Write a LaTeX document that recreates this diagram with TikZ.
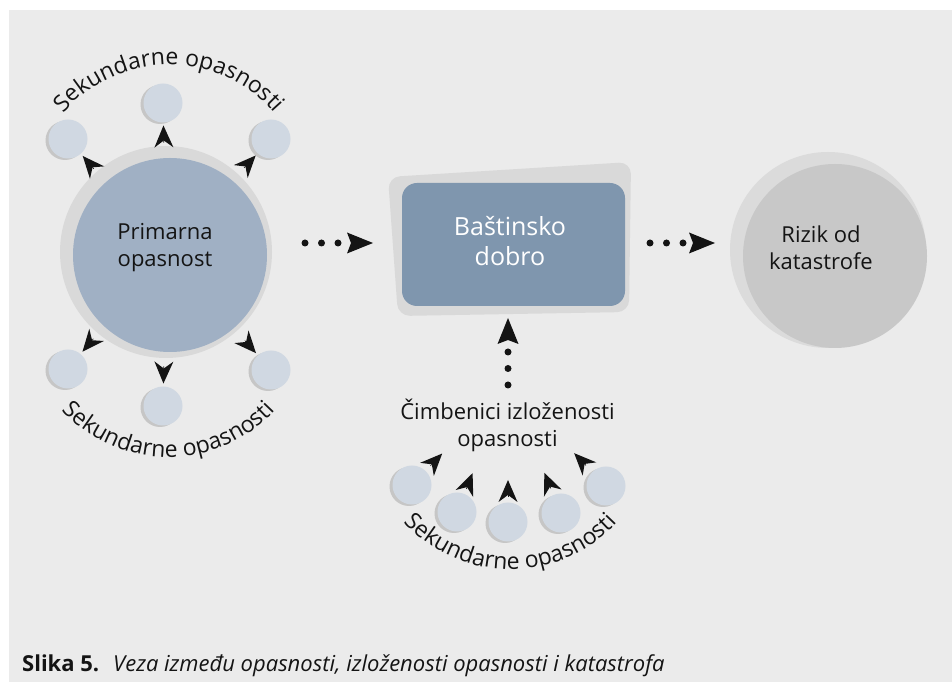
\documentclass[tikz,border=0pt]{standalone}
\usepackage{fontspec}
\setmainfont{Open Sans}
\usetikzlibrary{arrows.meta,decorations.text}

\definecolor{panel}{RGB}{235,235,235}
\definecolor{ring}{RGB}{217,217,217}
\definecolor{primblue}{RGB}{160,176,196}
\definecolor{secblue}{RGB}{208,216,226}
\definecolor{secshadow}{RGB}{198,198,198}
\definecolor{boxblue}{RGB}{127,150,174}
\definecolor{riskout}{RGB}{219,219,219}
\definecolor{riskin}{RGB}{200,200,200}
\definecolor{ink}{RGB}{20,20,20}

\newcommand{\lbl}{\fontsize{22}{27}\selectfont}
\newcommand{\arclbl}{\fontsize{23}{27}\selectfont}

\begin{document}
\begin{tikzpicture}[x=1pt,y=1pt,
  sec/.style={circle, fill=secblue, minimum size=39pt, inner sep=0pt, outer sep=0pt},
  tiparrow/.style={draw=ink, line width=0.6pt, -{Stealth[length=22pt,width=19pt,inset=7pt,line width=0pt]}, shorten >=3pt},
  dotarrow/.style={draw=ink, line width=7pt, line cap=round, dash pattern=on 0pt off 16.5pt, -{Stealth[length=26pt,width=21pt,inset=4pt,line width=0pt]}},
  arctext/.style={decorate, decoration={text along path, text align=center, text color=ink, text={|\arclbl|Sekundarne opasnosti}}},
  lab/.style={font=\lbl, align=center, text=ink, inner sep=0pt}
]
\useasboundingbox (0,0) rectangle (952,682);
\fill[panel] (9,0) rectangle (952,672);

% primary hazard
\node[circle, fill=ring, minimum size=212pt, inner sep=0pt, outer sep=0pt] (P) at (166,430) {};
\fill[primblue] (170,427) circle[radius=97];
\node[lab] (Pt) at (165,434) {Primarna\\opasnost};

% secondary hazards
\foreach \n/\x/\y in {s1/163/579, s2/68/543, s3/271/543, s4/68/313, s5/163/276, s6/271/312,
                      b1/412/197, b2/457/170, b3/508/160, b4/561/169, b5/606/196} {
  \fill[secshadow] (\x-3,\y-1.5) circle[radius=19.5];
  \node[sec] (\n) at (\x,\y) {};
}

% heritage box
\fill[ring, rounded corners=12pt] (388,505) -- (631,520) -- (629,370) -- (398,366) -- cycle;
\node[fill=boxblue, rounded corners=15pt, minimum width=223pt, minimum height=123pt, inner sep=0pt, outer sep=0pt] (B) at (513.5,437.5) {};
\node[font=\fontsize{25}{30}\selectfont, align=center, text=white, inner sep=0pt] (Bt) at (510,441) {Baštinsko\\dobro};

% disaster risk
\fill[riskout] (828,432) circle[radius=98];
\node[circle, fill=riskin, minimum size=184pt, inner sep=0pt, outer sep=0pt] (R) at (835,426) {};
\node[lab] (Rt) at (821,434.5) {Rizik od\\katastrofe};

% exposure factors
\node[lab] (C) at (507.5,257) {Čimbenici izloženosti\\opasnosti};

\coordinate (F) at (508,297);
\coordinate (d1) at (305,439);
\coordinate (d2) at (650,439);
\coordinate (d3) at (508,297);

% arrows from primary hazard
\foreach \s/\g in {s1/3.5, s2/4.1, s3/8.8, s4/7.1, s5/8.5, s6/12.5}
  \draw[tiparrow, shorten <=\g pt] (P) -- (\s);
% arrows toward exposure factors
\foreach \s/\g in {b1/7.1, b2/5.4, b3/5.5, b4/7, b5/9.2}
  \draw[tiparrow, shorten >=95pt, shorten <=\g pt] (\s) -- (F);

% dotted connectors
\draw[dotarrow, shorten >=29pt] (d1) -- (d1 -| B.west);
\draw[dotarrow, shorten >=28pt] (d2) -- (d2 -| R.west);
\draw[dotarrow, shorten >=12pt] (d3) -- (d3 |- B.south);

% curved labels
\path[arctext] (169,477) ++(165:140) arc[start angle=165, end angle=15, radius=140];
\path[arctext] (168.5,370) ++(210:145) arc[start angle=210, end angle=330, radius=145];
\path[arctext] (510.5,257.6) ++(210:145) arc[start angle=210, end angle=330, radius=145];

% caption
\node[anchor=base west, font=\fontsize{22}{28}\selectfont, text=ink, inner sep=0pt] (cap) at (22,10)
  {\textbf{Slika 5.}\hspace{14pt}\textit{Veza između opasnosti, izloženosti opasnosti i katastrofa}};
\end{tikzpicture}
\end{document}
